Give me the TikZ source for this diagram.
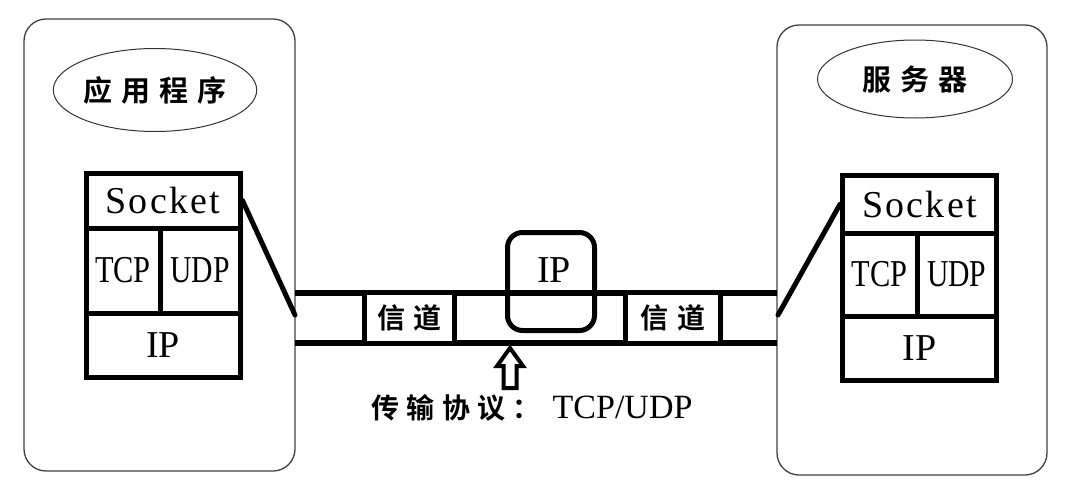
\documentclass[tikz,border=0pt]{standalone}
\usepackage{fontspec}
\usetikzlibrary{shapes.geometric}
\setmainfont{Liberation Serif}
\newfontfamily\cjk[LetterSpace=32]{Noto Sans CJK SC Bold}
\newfontfamily\cjkb[LetterSpace=26]{Noto Sans CJK SC Bold}
\newfontfamily\latsp[LetterSpace=6]{Liberation Serif}
\tikzset{
  host/.style={draw=black!75, line width=1.3pt, rounded corners=22pt},
  oval/.style={draw=black!80, line width=1pt, ellipse, inner sep=0pt},
  layer/.style={draw, line width=5pt, inner sep=0pt, font=\fontsize{38}{40}\selectfont},
  chanbox/.style={draw, fill=white, line width=5pt, inner sep=0pt, font=\cjk\fontsize{28}{30}\selectfont},
  wire/.style={line width=6pt},
  link/.style={line width=5pt, line cap=round},
  cjklabel/.style={font=\cjk\fontsize{29}{30}\selectfont}
}
\begin{document}
\begin{tikzpicture}[x=1pt,y=-1pt]
\useasboundingbox (0,0) rectangle (1071,496);
% hosts
\draw[host] (24,19) rectangle (295,471);
\draw[host] (777,25) rectangle (1047,475);
\node[oval, minimum width=185pt, minimum height=83pt, cjklabel] (app) at (155,90) {应用程序};
\node[oval, minimum width=195pt, minimum height=78pt, cjklabel] (srv) at (915,79) {服务器};
% left stack
\node[layer, minimum width=154pt, minimum height=55pt] (sockL) at (163,200.5) {\latsp Socket};
\node[layer, minimum width=74pt, minimum height=85pt] (tcpL) at (123,270.5) {\scalebox{0.8}[1]{TCP}};
\node[layer, minimum width=80pt, minimum height=85pt] (udpL) at (200,270.5) {\scalebox{0.78}[1]{UDP}};
\node[layer, minimum width=154pt, minimum height=64pt] (ipL) at (163,345) {IP};
% right stack
\node[layer, minimum width=154pt, minimum height=57.5pt] (sockR) at (919.5,204.25) {\latsp Socket};
\node[layer, minimum width=74.5pt, minimum height=83pt] (tcpR) at (879.75,274.5) {\scalebox{0.8}[1]{TCP}};
\node[layer, minimum width=79.5pt, minimum height=83pt] (udpR) at (956.75,274.5) {\scalebox{0.78}[1]{UDP}};
\node[layer, minimum width=154pt, minimum height=64.5pt] (ipR) at (919.5,348.25) {IP};
% channel
\coordinate (chTL) at (295,293);
\coordinate (chTR) at (777,293);
\coordinate (chBL) at (295,343);
\coordinate (chBR) at (777,343);
\draw[wire] (chTL) -- (chTR);
\draw[wire] (chBL) -- (chBR);
\coordinate (dL) at (295,315);
\coordinate (dR) at (778,315);
\draw[link] (sockL.east) -- (dL);
\draw[link] (dR) -- (sockR.west);
\node[chanbox, minimum width=90pt, minimum height=51pt] (chan1) at (409.5,317.5) {信道};
\node[chanbox, minimum width=95pt, minimum height=51pt] (chan2) at (673,317.5) {信道};
\node[draw, line width=5pt, rounded corners=15pt, minimum width=87pt, minimum height=98pt, inner sep=0pt] (ipM) at (551,281.5) {};
\node[font=\fontsize{38}{40}\selectfont] (ipMt) at (554,270) {IP};
% arrow
\node[font=\fontsize{34}{36}\selectfont] (proto) at (532,408) {{\cjkb\fontsize{28}{30}\selectfont 传输协议：}\hspace{12pt}TCP/UDP};
\draw[line width=4pt, line join=miter] (510,348) -- (523,366) -- (516.5,366) -- (516.5,388) -- (503.5,388) -- (503.5,366) -- (497,366) -- cycle;
\end{tikzpicture}
\end{document}
